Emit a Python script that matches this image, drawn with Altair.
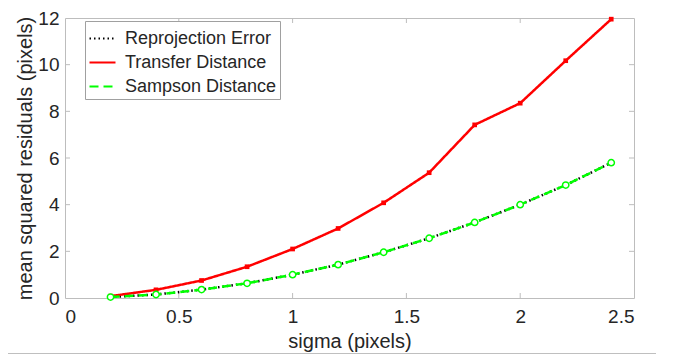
import altair as alt
import pandas as pd

sigma = [0.2, 0.4, 0.6, 0.8, 1.0, 1.2, 1.4, 1.6, 1.8, 2.0, 2.2, 2.4]
reprojection = [0.04, 0.15, 0.36, 0.63, 1.0, 1.43, 1.96, 2.56, 3.24, 4.0, 4.84, 5.8]
transfer = [0.08, 0.35, 0.75, 1.34, 2.1, 2.98, 4.08, 5.37, 7.42, 8.35, 10.17, 11.95]
sampson = [0.04, 0.15, 0.36, 0.63, 1.0, 1.43, 1.96, 2.56, 3.24, 4.0, 4.84, 5.8]

series_names = ["Reprojection Error", "Transfer Distance", "Sampson Distance"]
series_colors = ["#000000", "#ff0000", "#00ff00"]
series_dash = [[1.5, 3], [1, 0], [9, 5]]

x_ticks = [0, 0.5, 1, 1.5, 2, 2.5]
y_ticks = [0, 2, 4, 6, 8, 10, 12]
x_inner_ticks = [0.5, 1, 1.5, 2]
y_inner_ticks = [2, 4, 6, 8, 10]

W, H = 569, 280
GRAY = "#bdbdbd"
TXT = "#262626"
FONT = "Liberation Sans"

rows = []
for name, vals in zip(series_names, [reprojection, transfer, sampson]):
    for s, v in zip(sigma, vals):
        rows.append({"sigma": s, "value": v, "series": name})
df = pd.DataFrame(rows)

xscale = alt.Scale(domain=[0, 2.5], nice=False, zero=False)
yscale = alt.Scale(domain=[0, 12], nice=False)

x_enc = alt.X("sigma:Q", scale=xscale,
              axis=alt.Axis(values=x_ticks, format="~g", title="sigma (pixels)",
                            domain=False, ticks=False, grid=False,
                            labelPadding=9, titlePadding=5))
y_enc = alt.Y("value:Q", scale=yscale,
              axis=alt.Axis(values=y_ticks, format="~g", title="mean squared residuals (pixels)",
                            domain=False, ticks=False, grid=False,
                            labelPadding=6, titlePadding=2))

color_enc = alt.Color("series:N", scale=alt.Scale(domain=series_names, range=series_colors),
                      title=None,
                      legend=alt.Legend(orient="none", legendX=20, legendY=3,
                                        fillColor="white", strokeColor="#a0a0a0",
                                        padding=3, rowPadding=-2, labelFontSize=18,
                                        labelFont=FONT, labelColor=TXT,
                                        symbolSize=676, symbolStrokeWidth=2.2,
                                        labelOffset=8, labelLimit=300))
dash_enc = alt.StrokeDash("series:N", scale=alt.Scale(domain=series_names, range=series_dash),
                          title=None, legend=alt.Legend(orient="none"))

base = alt.Chart(df)
layers = []
for name in series_names:
    layers.append(
        base.transform_filter(alt.datum.series == name)
        .mark_line(strokeWidth=2.5)
        .encode(x=x_enc, y=y_enc, color=color_enc, strokeDash=dash_enc)
    )

red_pts = base.transform_filter(alt.datum.series == "Transfer Distance").mark_point(
    shape="square", filled=True, color="#ff0000", size=22, opacity=1
).encode(x=alt.X("sigma:Q", scale=xscale), y=alt.Y("value:Q", scale=yscale))

green_pts = base.transform_filter(alt.datum.series == "Sampson Distance").mark_point(
    shape="circle", filled=True, fill="white", stroke="#00ff00", strokeWidth=1.5,
    size=40, opacity=1, fillOpacity=1
).encode(x=alt.X("sigma:Q", scale=xscale), y=alt.Y("value:Q", scale=yscale))

xt = pd.DataFrame({"t": x_inner_ticks})
yt = pd.DataFrame({"t": y_inner_ticks})
xb = alt.Chart(xt).mark_rule(color=GRAY, strokeWidth=1).encode(
    x=alt.X("t:Q", scale=xscale), y=alt.value(H), y2=alt.value(H - 5))
xtop = alt.Chart(xt).mark_rule(color=GRAY, strokeWidth=1).encode(
    x=alt.X("t:Q", scale=xscale), y=alt.value(0), y2=alt.value(5))
yl = alt.Chart(yt).mark_rule(color=GRAY, strokeWidth=1).encode(
    y=alt.Y("t:Q", scale=yscale), x=alt.value(0), x2=alt.value(5))
yr = alt.Chart(yt).mark_rule(color=GRAY, strokeWidth=1).encode(
    y=alt.Y("t:Q", scale=yscale), x=alt.value(W), x2=alt.value(W - 5))

bottom_line = alt.Chart(pd.DataFrame({"a": [0]})).mark_rule(color="#808080", strokeWidth=1.2).encode(
    x=alt.value(-58), x2=alt.value(591), y=alt.value(H + 56))

chart = alt.layer(xb, xtop, yl, yr, *layers, red_pts, green_pts, bottom_line).properties(
    width=W, height=H,
    autosize=alt.AutoSizeParams(type="none"),
    padding={"left": 57, "top": 10, "right": 26, "bottom": 56},
).configure_view(stroke=GRAY, strokeWidth=1).configure_axis(
    labelFont=FONT, titleFont=FONT, labelFontSize=19, titleFontSize=20,
    labelColor=TXT, titleColor=TXT, titleFontWeight="normal"
)

chart.save("out.html", embed_options={"renderer": "svg", "actions": False})
